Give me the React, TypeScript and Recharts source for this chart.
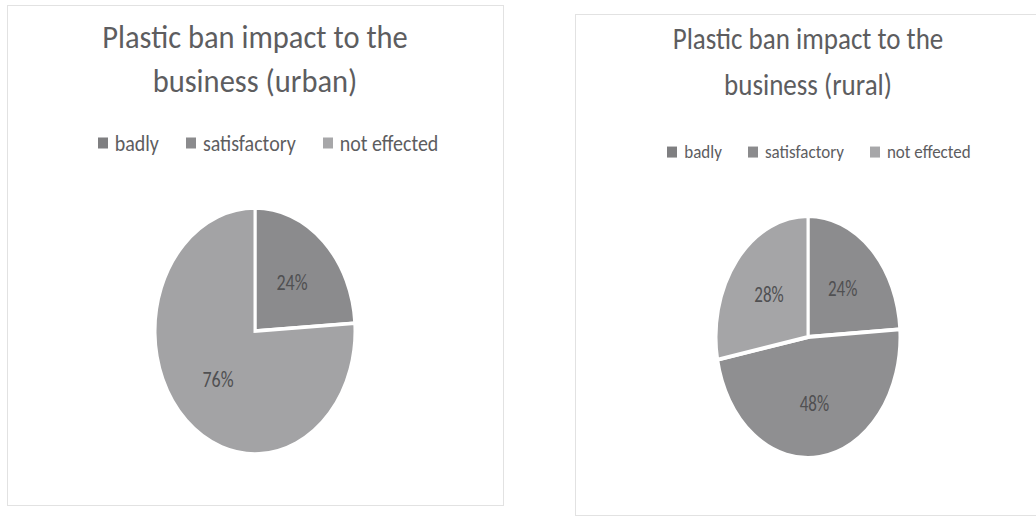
import React from 'react';
import { PieChart, Pie, Cell } from 'recharts';

const categories = ['badly', 'satisfactory', 'not effected'];
const urbanValues = [24, 0, 76];
const ruralValues = [24, 48, 28];
const urbanTitle = ['Plastic ban impact to the', 'business (urban)'];
const ruralTitle = ['Plastic ban impact to the', 'business (rural)'];
const legendColors = ['#7f7f81', '#8b8b8d', '#a7a7a9'];
const sliceColorsUrban = ['#8b8b8d', '#909092', '#a3a3a5'];
const sliceColorsRural = ['#8c8c8e', '#8f8f91', '#a5a5a7'];

const FONT = "Carlito, 'Liberation Sans Narrow', Lato, 'Open Sans', sans-serif";
const RADIAN = Math.PI / 180;

const makeLabel = (fontSize: number, factor: number) => (props: any) => {
  const { cx, cy, midAngle, outerRadius, value, percent } = props;
  if (!value) return null;
  const r = outerRadius * factor;
  const x = cx + r * Math.cos(-midAngle * RADIAN);
  const y = cy + r * Math.sin(-midAngle * RADIAN);
  return (
    <text x={x} y={y} fill="#505052" fontSize={fontSize} fontFamily={FONT} textAnchor="middle" dominantBaseline="central">
      {`${Math.round(percent * 100)}%`}
    </text>
  );
};

type PanelProps = {
  box: { left: number; top: number; width: number; height: number };
  title: string[];
  titleSize: number;
  titleTop: number;
  titleGap: number;
  titleCenter: number;
  legendTop: number;
  legendCenter: number;
  legendSize: number;
  legendGap: number;
  values: number[];
  colors: string[];
  pie: { cx: number; cy: number; rx: number; ry: number };
  labelSize: number;
  labelFactor: number;
};

function Panel(p: PanelProps) {
  const data = categories.map((c, i) => ({ name: c, value: p.values[i] }));
  const size = p.pie.rx * 2 + 20;
  const scale = p.pie.ry / p.pie.rx;
  return (
    <>
      <div
        style={{
          position: 'absolute',
          left: p.box.left,
          top: p.box.top,
          width: p.box.width,
          height: p.box.height,
          border: '1px solid #e2e2e2',
          boxSizing: 'border-box',
        }}
      />
      {p.title.map((t, i) => (
        <div
          key={i}
          style={{
            position: 'absolute',
            left: p.titleCenter - 250,
            width: 500,
            top: p.titleTop + i * p.titleGap,
            textAlign: 'center',
            fontFamily: FONT,
            fontSize: p.titleSize,
            color: '#5d5d5f',
            lineHeight: 1,
            whiteSpace: 'nowrap',
            transform: 'scaleY(1.1)',
          }}
        >
          {t}
        </div>
      ))}
      <div
        style={{
          position: 'absolute',
          left: p.legendCenter - 250,
          width: 500,
          top: p.legendTop,
          display: 'flex',
          justifyContent: 'center',
          alignItems: 'center',
          fontFamily: FONT,
          fontSize: p.legendSize,
          color: '#5d5d5f',
          lineHeight: 1,
          whiteSpace: 'nowrap',
          transform: 'scaleY(1.1)',
        }}
      >
        {categories.map((c, i) => (
          <span key={c} style={{ display: 'inline-flex', alignItems: 'center', marginRight: i < 2 ? p.legendGap : 0 }}>
            <span style={{ display: 'inline-block', width: 10, height: 10, background: legendColors[i], marginRight: 7 }} />
            {c}
          </span>
        ))}
      </div>
      <div
        style={{
          position: 'absolute',
          left: p.pie.cx - size / 2,
          top: p.pie.cy - size / 2,
          width: size,
          height: size,
          transform: `scaleY(${scale})`,
          transformOrigin: 'center center',
        }}
      >
        <PieChart width={size} height={size} margin={{ top: 0, right: 0, bottom: 0, left: 0 }}>
          <Pie
            data={data}
            dataKey="value"
            nameKey="name"
            cx="50%"
            cy="50%"
            outerRadius={p.pie.rx}
            startAngle={90}
            endAngle={-270}
            stroke="#ffffff"
            strokeWidth={3}
            label={makeLabel(p.labelSize, p.labelFactor)}
            labelLine={false}
            isAnimationActive={false}
          >
            {data.map((d, i) => (
              <Cell key={d.name} fill={p.colors[i]} />
            ))}
          </Pie>
        </PieChart>
      </div>
    </>
  );
}

export default function App() {
  return (
    <div style={{ position: 'fixed', left: 0, top: 0, width: 1036, height: 516, background: '#fff', overflow: 'hidden' }}>
      <Panel
        box={{ left: 7, top: 5, width: 497, height: 501 }}
        title={urbanTitle}
        titleSize={30.5}
        titleTop={22}
        titleGap={44}
        titleCenter={255}
        legendTop={133}
        legendCenter={268}
        legendSize={20}
        legendGap={27}
        values={urbanValues}
        colors={sliceColorsUrban}
        pie={{ cx: 255, cy: 331, rx: 100, ry: 123 }}
        labelSize={18}
        labelFactor={0.54}
      />
      <Panel
        box={{ left: 575, top: 14, width: 480, height: 502 }}
        title={ruralTitle}
        titleSize={27}
        titleTop={25}
        titleGap={46}
        titleCenter={808}
        legendTop={143}
        legendCenter={819}
        legendSize={17}
        legendGap={26}
        values={ruralValues}
        colors={sliceColorsRural}
        pie={{ cx: 808, cy: 337, rx: 92, ry: 121 }}
        labelSize={17}
        labelFactor={0.55}
      />
    </div>
  );
}
